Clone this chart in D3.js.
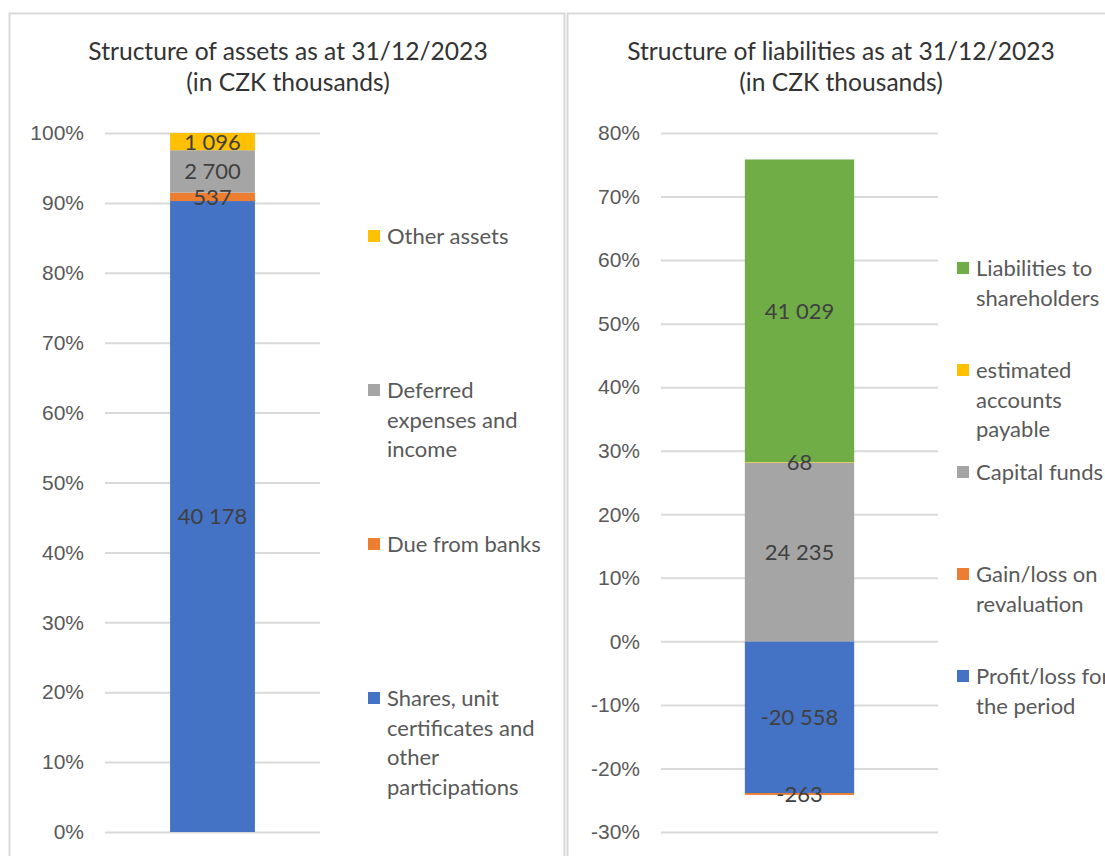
<!DOCTYPE html>
<html>
<head>
<meta charset="utf-8">
<script src="https://cdn.jsdelivr.net/npm/d3@7"></script>
<style>
  body { margin: 0; background: #fff; }
  svg { display: block; font-family: Lato, "Open Sans", sans-serif; }
</style>
</head>
<body>
<svg id="chart" width="1105" height="856"></svg>
<script>
// assets, CZK thousands (bottom to top of stack)
var assetNames = ["Shares, unit\ncertificates and\nother\nparticipations", "Due from banks", "Deferred\nexpenses and\nincome", "Other assets"];
var assetValues = [40178, 537, 2700, 1096];
var assetColors = ["#4472C4", "#ED7D31", "#A5A5A5", "#FFC000"];
var assetTicks = [0, 0.1, 0.2, 0.3, 0.4, 0.5, 0.6, 0.7, 0.8, 0.9, 1];

// liabilities, CZK thousands
var liabNames = ["Profit/loss for\nthe period", "Gain/loss on\nrevaluation", "Capital funds", "estimated\naccounts\npayable", "Liabilities to\nshareholders"];
var liabValues = [-20558, -263, 24235, 68, 41029];
var liabColors = ["#4472C4", "#ED7D31", "#A5A5A5", "#FFC000", "#70AD47"];
var liabTicks = [-0.3, -0.2, -0.1, 0, 0.1, 0.2, 0.3, 0.4, 0.5, 0.6, 0.7, 0.8];

var loc = d3.formatLocale({decimal: ",", thousands: " ", grouping: [3], currency: ["", ""], minus: "-"});
var fmtNum = loc.format(",d");
var fmtPct = loc.format(".0%");

var svg = d3.select("#chart");

// panel frames
svg.append("rect").attr("x", 9.5).attr("y", 13.5).attr("width", 555).attr("height", 900)
  .attr("fill", "#fff").attr("stroke", "#D9D9D9").attr("stroke-width", 2);
svg.append("rect").attr("x", 567.5).attr("y", 13.5).attr("width", 600).attr("height", 900)
  .attr("fill", "#fff").attr("stroke", "#D9D9D9").attr("stroke-width", 2);

function drawPanel(opt){
  var g = svg.append("g");

  // 100% stacked: share of sum of absolute values (as Excel does)
  var total = d3.sum(opt.values, function(v){ return Math.abs(v); });
  var row = {cat: "x"};
  opt.values.forEach(function(v, i){ row["s" + i] = v / total; });
  var keys = opt.values.map(function(v, i){ return "s" + i; });
  var series = d3.stack().keys(keys).offset(d3.stackOffsetDiverging)([row]);

  var x = d3.scaleBand().domain(["x"]).range([opt.x0, opt.x1]).paddingInner(0.434).paddingOuter(0.434);
  var y = d3.scaleLinear().domain(opt.domain).range([832, 133]);

  // gridlines + tick labels
  var axis = d3.axisLeft(y).tickValues(opt.ticks).tickFormat(fmtPct)
    .tickSize(-(opt.x1 - opt.x0)).tickPadding(21);
  var ax = g.append("g").attr("transform", "translate(" + opt.x0 + ",0)").call(axis);
  ax.select(".domain").remove();
  ax.selectAll(".tick line").attr("stroke", "#D9D9D9").attr("stroke-width", 2);
  ax.selectAll(".tick text").attr("fill", "#595959").style("font-size", "21px");

  // bars
  g.selectAll("rect.seg").data(series).enter().append("rect")
    .attr("class", "seg")
    .attr("x", x("x"))
    .attr("width", x.bandwidth())
    .attr("y", function(s){ return y(s[0][1]); })
    .attr("height", function(s){ return y(s[0][0]) - y(s[0][1]); })
    .attr("fill", function(s, i){ return opt.colors[i]; });

  // data labels
  g.selectAll("text.lbl").data(series).enter().append("text")
    .attr("class", "lbl")
    .attr("x", x("x") + x.bandwidth() / 2)
    .attr("y", function(s){ return y((s[0][0] + s[0][1]) / 2); })
    .attr("dy", "0.36em")
    .attr("text-anchor", "middle")
    .attr("fill", "#404040")
    .style("font-size", "22px")
    .text(function(s, i){ return fmtNum(opt.values[i]); });

  // title
  var t = g.append("text").attr("x", opt.titleX).attr("text-anchor", "middle")
    .attr("fill", "#333").style("font-size", "24.6px");
  t.append("tspan").attr("x", opt.titleX).attr("y", 60).text(opt.title);
  t.append("tspan").attr("x", opt.titleX).attr("y", 91).text("(in CZK thousands)");

  // legend, reversed order (top entry = last series)
  var names = opt.names.slice().reverse();
  var cols = opt.colors.slice().reverse();
  var lg = g.selectAll("g.leg").data(names).enter().append("g")
    .attr("class", "leg")
    .attr("transform", function(d, i){ return "translate(" + opt.legX + "," + (opt.legY + i * opt.legStep) + ")"; });
  lg.append("rect").attr("x", 0).attr("y", -6).attr("width", 12).attr("height", 12)
    .attr("fill", function(d, i){ return cols[i]; });
  lg.append("text").attr("fill", "#595959").style("font-size", "22px")
    .each(function(d){
      var txt = d3.select(this);
      d.split("\n").forEach(function(line, k){
        txt.append("tspan").attr("x", 19).attr("y", k * 29.7).attr("dy", "0.36em").text(line);
      });
    });
}

drawPanel({
  values: assetValues, names: assetNames, colors: assetColors, ticks: assetTicks,
  domain: [0, 1], x0: 105, x1: 320,
  title: "Structure of assets as at 31/12/2023", titleX: 288,
  legX: 368, legY: 236, legStep: 154
});

drawPanel({
  values: liabValues, names: liabNames, colors: liabColors, ticks: liabTicks,
  domain: [-0.3, 0.8], x0: 661, x1: 938,
  title: "Structure of liabilities as at 31/12/2023", titleX: 841,
  legX: 957, legY: 268, legStep: 102
});
</script>
</body>
</html>
